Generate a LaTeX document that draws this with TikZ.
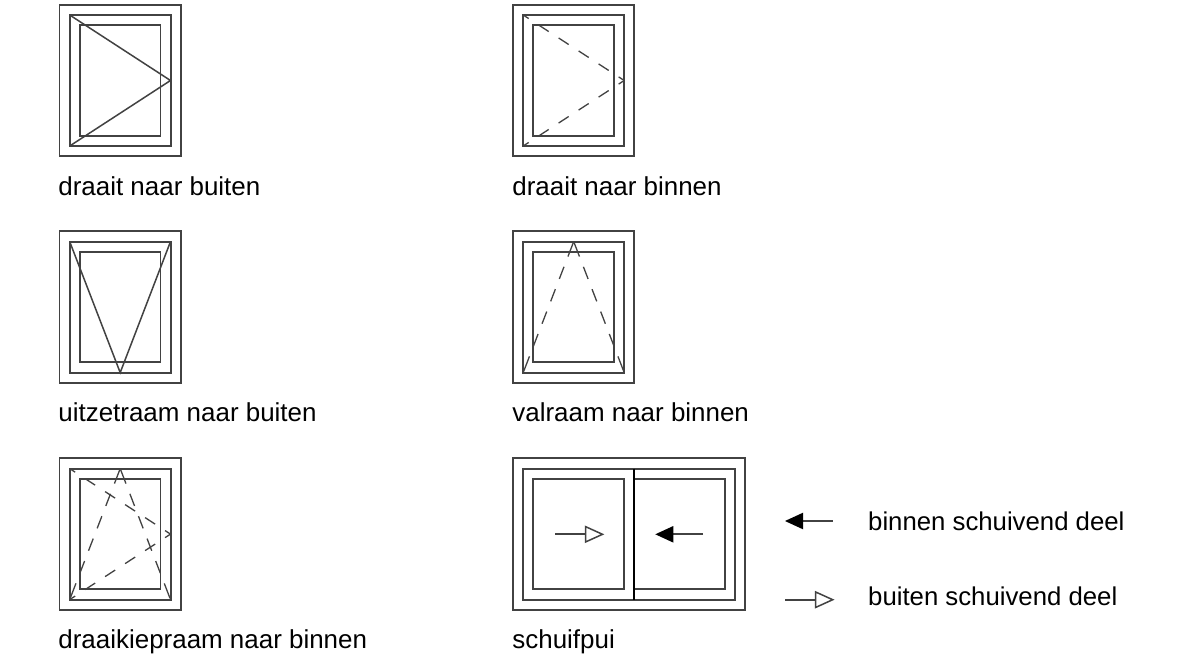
\documentclass[tikz,border=0pt]{standalone}
\usepackage{fontspec}
\setmainfont{Liberation Sans}
\usetikzlibrary{arrows.meta}
\definecolor{ink}{gray}{0.26}
\tikzset{
  frame/.style={draw=ink,line width=1.8pt},
  solidline/.style={draw=ink,line width=1.5pt},
  dashh/.style={draw=ink,line width=1.3pt,dash pattern=on 12pt off 11.85pt,dash phase=5.5pt},
  dashv/.style={draw=ink,line width=1.3pt,dash pattern=on 16pt off 11pt on 13pt off 11pt on 13pt off 11pt on 13pt off 11pt on 13pt off 11pt on 16pt off 20pt},
  lbl/.style={anchor=base west,inner sep=0pt,font=\fontsize{25.95pt}{28pt}\selectfont,text=black},
  lgd/.style={lbl,font=\fontsize{25.75pt}{28pt}\selectfont},
  shaft/.style={draw=ink,line width=1.8pt},
  openhead/.style={draw=ink,fill=white,line width=1.5pt,line join=miter}
}
% #1 left x, #2 top y: three nested frames
\newcommand{\winframe}[2]{%
  \draw[frame] (#1,#2) rectangle ++(121.3,151.5);
  \draw[frame] ({#1+10.2},{#2+10.3}) rectangle ++(101,131);
  \draw[frame] ({#1+20.3},{#2+20.5}) rectangle ++(80.7,110.5);
}
\newcommand{\rightopen}[3]{% tail x, tip x, y (base 17 before tip)
  \draw[shaft] (#1,#3) -- ({#2-17},#3);
  \draw[openhead] (#2,#3) -- ({#2-17},{#3-7.7}) -- ({#2-17},{#3+7.7}) -- cycle;
}
\newcommand{\leftfull}[3]{% tail x, tip x, y
  \draw[shaft] (#1,#3) -- ({#2+15},#3);
  \fill[black] (#2,#3) -- ({#2+18},{#3-8.3}) -- ({#2+18},{#3+8.3}) -- cycle;
}
\begin{document}
\begin{tikzpicture}[x=1pt,y=-1pt]
\useasboundingbox (0,0) rectangle (1177,662);
\fill[white] (0,0) rectangle (1177,662);

% draait naar buiten
\winframe{59.5}{4.7}
\draw[solidline,line join=miter] (69.7,15) -- (170.5,80.5) -- (69.7,146);
\node[lbl] (l1) at (58.2,195.5) {draait naar buiten};

% draait naar binnen
\winframe{513}{4.7}
\draw[dashh] (523.2,15) -- (624.2,80.5);
\draw[dashh] (523.2,146) -- (624.2,80.5);
\node[lbl] (l2) at (512.2,195.5) {draait naar binnen};

% uitzetraam naar buiten
\winframe{59.5}{231.3}
\draw[solidline,line join=miter] (69.7,241.6) -- (120.2,372.6) -- (170.5,241.6);
\node[lbl] (l3) at (58.2,421.5) {uitzetraam naar buiten};

% valraam naar binnen
\winframe{513}{231.3}
\draw[dashv] (573.7,241.6) -- (523.2,372.6);
\draw[dashv] (573.7,241.6) -- (624.2,372.6);
\node[lbl] (l4) at (512.2,421.5) {valraam naar binnen};

% draaikiepraam naar binnen
\winframe{59.5}{458.3}
\draw[dashh] (69.7,468.6) -- (170.5,534.1);
\draw[dashh] (69.7,599.6) -- (170.5,534.1);
\draw[dashv] (120.2,468.6) -- (69.7,599.6);
\draw[dashv] (120.2,468.6) -- (170.5,599.6);
\node[lbl] (l5) at (58.2,648.5) {draaikiepraam naar binnen};

% schuifpui
\draw[frame] (513,458.3) rectangle (745,609.8);
\draw[frame] (523.2,468.6) rectangle (735,599.6);
\draw[frame] (533.3,478.8) rectangle (624.3,589.3);
\draw[frame] (634,478.8) rectangle (724.8,589.3);
\draw[draw=black,line width=1.8pt] (634,468.6) -- (634,599.6);
\rightopen{555}{602.5}{534.3}
\leftfull{703}{655.3}{534.3}
\node[lbl] (l6) at (512.2,648.5) {schuifpui};

% legenda
\leftfull{832.7}{785}{521}
\rightopen{785}{832.7}{599.7}
\node[lgd] (l7) at (868,530.5) {binnen schuivend deel};
\node[lgd] (l8) at (868,605.5) {buiten schuivend deel};
\end{tikzpicture}
\end{document}
